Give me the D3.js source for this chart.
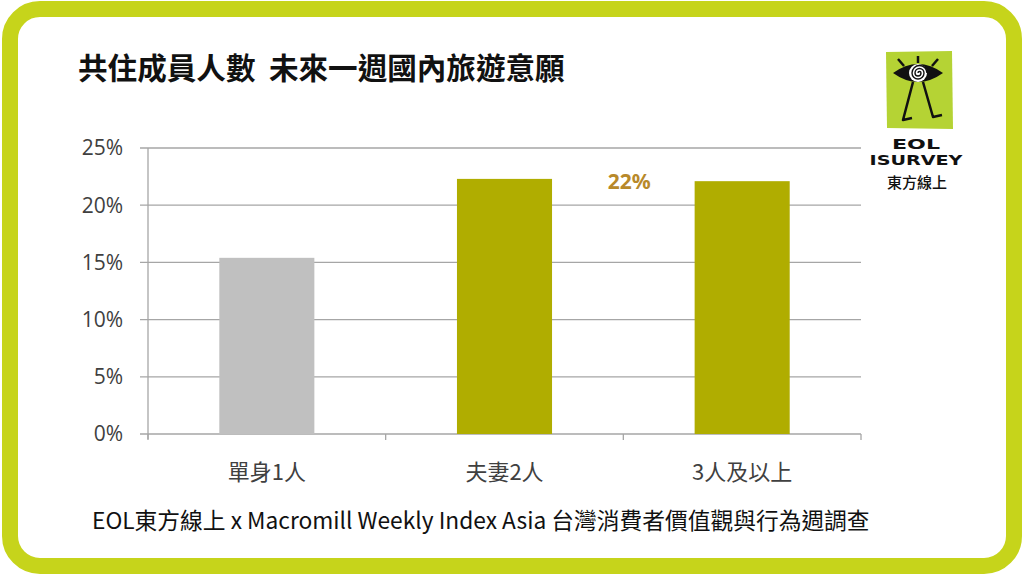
<!DOCTYPE html>
<html>
<head>
<meta charset="utf-8">
<script src="https://cdn.jsdelivr.net/npm/d3@7"></script>
<style>
html,body{margin:0;padding:0;background:#fff;}
svg{display:block;}
</style>
</head>
<body>
<svg id="chart" width="1024" height="577"></svg>
<script>
const categories = ["單身1人", "夫妻2人", "3人及以上"];
const values = [0.154, 0.223, 0.221];
const barColors = ["#c0c0c0", "#b0ad00", "#b0ad00"];
const yTicks = [0, 0.05, 0.10, 0.15, 0.20, 0.25];
const yTickLabels = ["0%", "5%", "10%", "15%", "20%", "25%"];
const titleText = "共住成員人數  未來一週國內旅遊意願";
const footerText = "EOL東方線上 x Macromill Weekly Index Asia 台灣消費者價值觀與行為週調查";
const highlightLabel = "22%";

const svg = d3.select("#chart");
const font = "'Noto Sans CJK TC','Noto Sans',sans-serif";

function fitText(sel, width) {
  const w = sel.node().getComputedTextLength();
  const fs = parseFloat(sel.attr("font-size"));
  sel.attr("font-size", fs * width / w);
}

// frame
svg.append("rect").attr("x", 10).attr("y", 9).attr("width", 1004).attr("height", 557)
  .attr("rx", 30).attr("ry", 30).attr("fill", "#fff")
  .attr("stroke", "#c6d41b").attr("stroke-width", 16);

// title
const title = svg.append("text").attr("x", 78).attr("y", 79)
  .attr("font-family", font).attr("font-weight", 700).attr("font-size", 26)
  .attr("fill", "#111").attr("xml:space", "preserve").style("white-space", "pre")
  .text(titleText);
fitText(title, 487);

const pL = 148, pR = 861, pT = 148, pB = 434;
const x = d3.scaleBand().domain(categories).range([pL, pR]).paddingInner(0.6).paddingOuter(0.3);
const xb = d3.scaleBand().domain(categories).range([pL, pR]);
const y = d3.scaleLinear().domain([0, 0.25]).range([pB, pT]);

// gridlines
svg.append("g").selectAll("line").data(yTicks).join("line")
  .attr("x1", 140).attr("x2", pR).attr("y1", d => y(d)).attr("y2", d => y(d))
  .attr("stroke", "#a6a6a6").attr("stroke-width", 1.3);

// y axis line
svg.append("line").attr("x1", pL).attr("x2", pL).attr("y1", pT).attr("y2", pB + 5)
  .attr("stroke", "#a6a6a6").attr("stroke-width", 1.3);

// x ticks
const xt = categories.map(c => xb(c)).concat([pR]);
svg.append("g").selectAll("line").data(xt).join("line")
  .attr("x1", d => d).attr("x2", d => d).attr("y1", pB).attr("y2", pB + 6)
  .attr("stroke", "#a6a6a6").attr("stroke-width", 1.3);

// y tick labels
svg.append("g").selectAll("text").data(yTicks).join("text")
  .attr("x", 123).attr("y", d => y(d)).attr("dy", "0.35em")
  .attr("text-anchor", "end").attr("font-family", "'Open Sans','Noto Sans',sans-serif")
  .attr("font-size", 21).attr("fill", "#404040")
  .text((d, i) => yTickLabels[i]);

// bars
svg.append("g").selectAll("rect").data(values).join("rect")
  .attr("x", (d, i) => x(categories[i]))
  .attr("width", x.bandwidth())
  .attr("y", d => y(d)).attr("height", d => pB - y(d))
  .attr("fill", (d, i) => barColors[i]);

// x labels
svg.append("g").selectAll("text").data(categories).join("text")
  .attr("x", d => xb(d) + xb.bandwidth() / 2).attr("y", 480)
  .attr("text-anchor", "middle").attr("font-family", font)
  .attr("font-size", 22).attr("fill", "#404040")
  .text(d => d);

// highlight label (between bar 2 and bar 3)
const gapMid = (x(categories[1]) + x.bandwidth() + x(categories[2])) / 2;
svg.append("text").attr("x", gapMid + 6)
  .attr("y", y(values[1]) + 10).attr("text-anchor", "middle")
  .attr("font-family", "'Noto Sans',sans-serif").attr("font-weight", 700)
  .attr("font-size", 21).attr("fill", "#b8892a").text(highlightLabel);

// footer
const footer = svg.append("text").attr("x", 92).attr("y", 529)
  .attr("font-family", "'Noto Sans CJK TC',sans-serif").attr("font-size", 19).attr("fill", "#111")
  .text(footerText);
fitText(footer, 778);

// logo
const lg = svg.append("g");
lg.append("path").attr("d", "M886,52 L952,51 L953,129 L887,128 Z").attr("fill", "#b5d334");
lg.append("path").attr("d", "M893,73 Q918,55 943,73 Q918,91 893,73 Z").attr("fill", "#111");
lg.append("circle").attr("cx", 918).attr("cy", 73).attr("r", 9).attr("fill", "#fff");
lg.append("path").attr("d", "M918,73 m0,0 a1.5,1.5 0 0,1 3,0 a3,3 0 0,1 -6,0 a4.5,4.5 0 0,1 9,0 a6,6 0 0,1 -12,0 a7.5,7.5 0 0,1 15,0")
  .attr("fill", "none").attr("stroke", "#111").attr("stroke-width", 1.4);
const strokes = [
  "M898,59 L904,66", "M918,56 L918,63", "M938,59 L932,66",
  "M913,82 L903,120 L912,118", "M923,82 L933,117 L942,115"
];
lg.selectAll("path.s").data(strokes).join("path").attr("class", "s").attr("d", d => d)
  .attr("fill", "none").attr("stroke", "#111").attr("stroke-width", 2.5).attr("stroke-linejoin", "round");
lg.append("text").attr("x", 916).attr("y", 149).attr("text-anchor", "middle")
  .attr("font-family", "'DejaVu Sans',sans-serif").attr("font-weight", 700).attr("font-size", 14)
  .attr("textLength", 48).attr("lengthAdjust", "spacingAndGlyphs")
  .attr("fill", "#111").text("EOL");
lg.append("text").attr("x", 916).attr("y", 165).attr("text-anchor", "middle")
  .attr("font-family", "'DejaVu Sans',sans-serif").attr("font-weight", 700).attr("font-size", 14)
  .attr("textLength", 93).attr("lengthAdjust", "spacingAndGlyphs")
  .attr("fill", "#111").text("ISURVEY");
lg.append("text").attr("x", 917).attr("y", 188).attr("text-anchor", "middle")
  .attr("font-family", font).attr("font-weight", 500).attr("font-size", 15)
  .attr("fill", "#111").text("東方線上");
</script>
</body>
</html>
